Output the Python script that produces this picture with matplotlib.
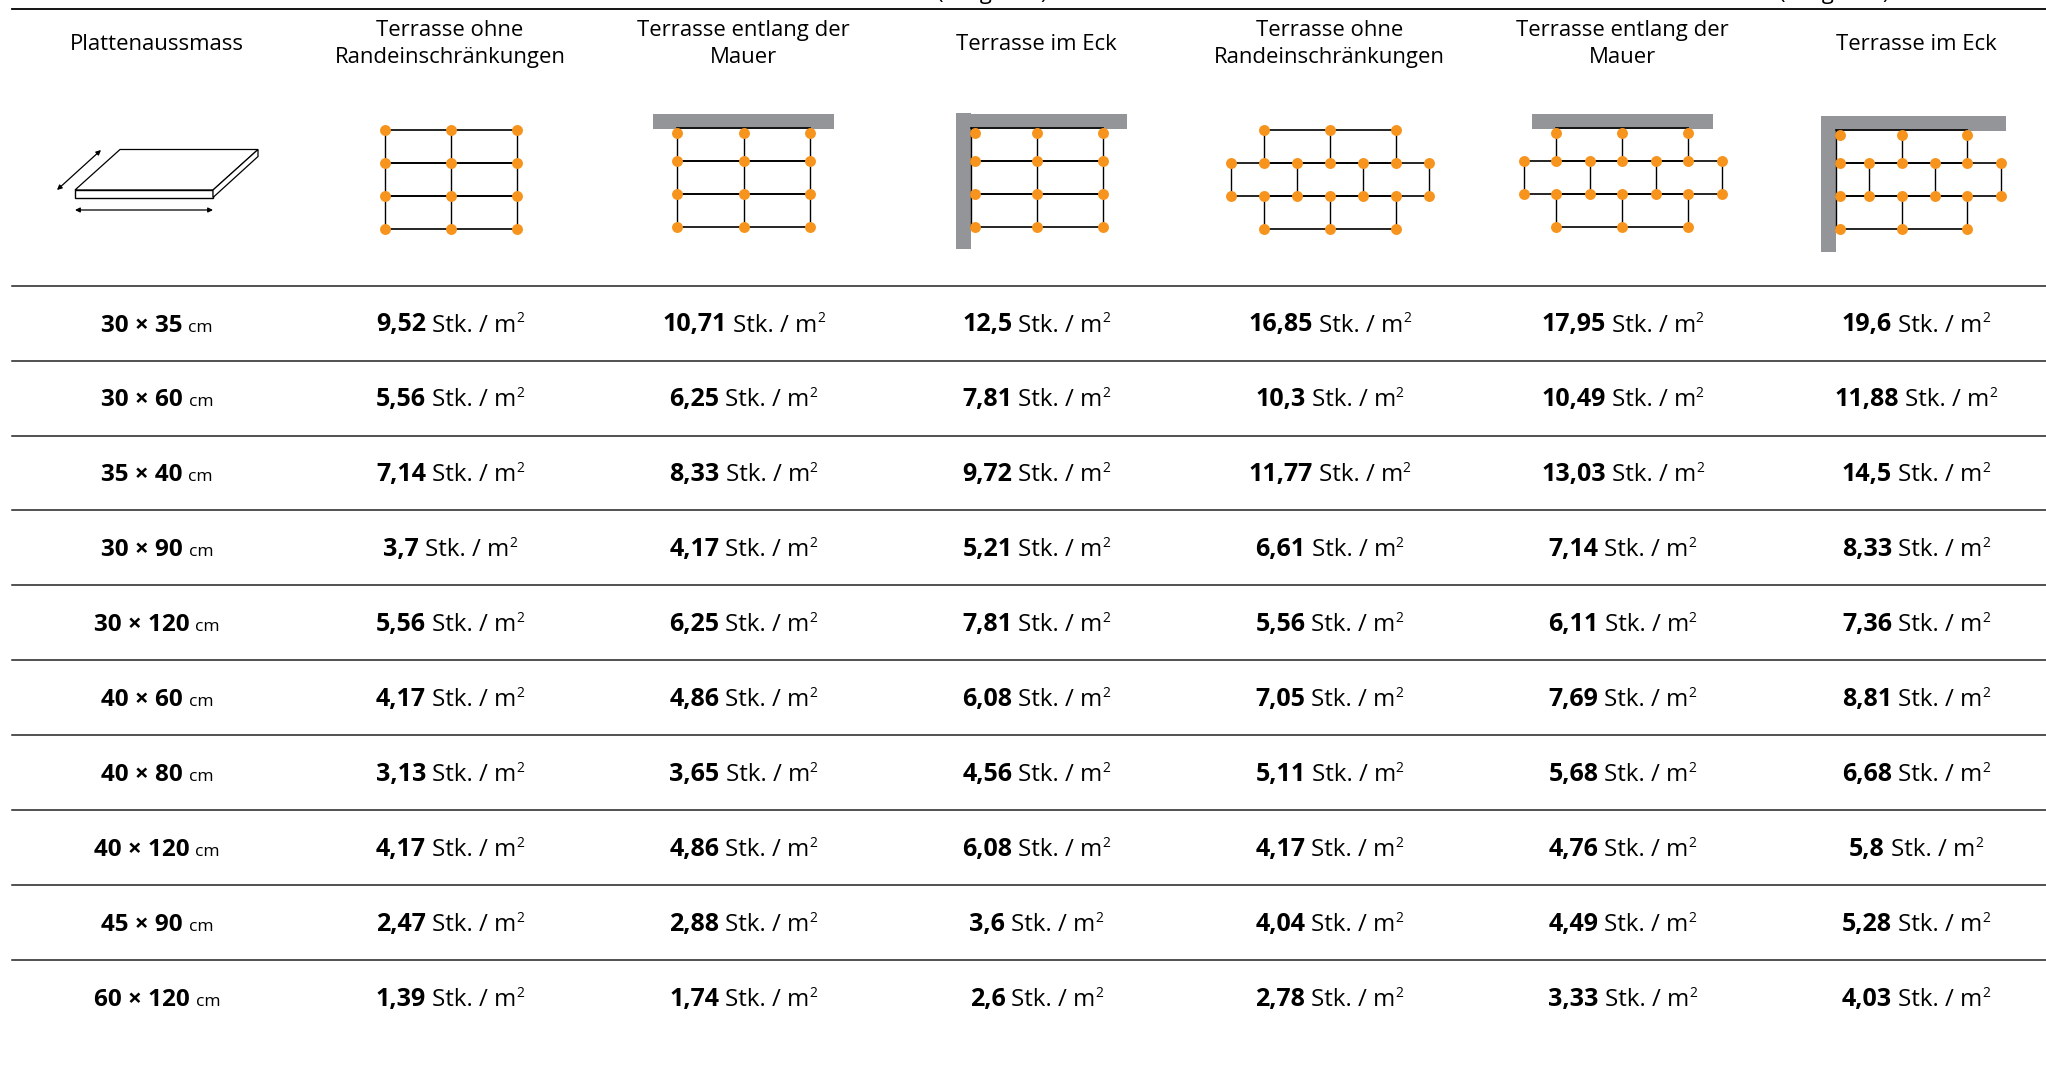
import matplotlib

matplotlib.use("Agg")
import matplotlib.pyplot as plt
from matplotlib.patches import Polygon, Rectangle

# values per column, top to bottom
sizes = ["30 × 35", "30 × 60", "35 × 40", "30 × 90", "30 × 120",
         "40 × 60", "40 × 80", "40 × 120", "45 × 90", "60 × 120"]
free_grid = [9.52, 5.56, 7.14, 3.7, 5.56, 4.17, 3.13, 4.17, 2.47, 1.39]
wall_grid = [10.71, 6.25, 8.33, 4.17, 6.25, 4.86, 3.65, 4.86, 2.88, 1.74]
corner_grid = [12.5, 7.81, 9.72, 5.21, 7.81, 6.08, 4.56, 6.08, 3.6, 2.6]
free_offset = [16.85, 10.3, 11.77, 6.61, 5.56, 7.05, 5.11, 4.17, 4.04, 2.78]
wall_offset = [17.95, 10.49, 13.03, 7.14, 6.11, 7.69, 5.68, 4.76, 4.49, 3.33]
corner_offset = [19.6, 11.88, 14.5, 8.33, 7.36, 8.81, 6.68, 5.8, 5.28, 4.03]
columns = [free_grid, wall_grid, corner_grid, free_offset, wall_offset, corner_offset]

headers = ["Plattenaussmass",
           "Terrasse ohne\nRandeinschränkungen",
           "Terrasse entlang der\nMauer",
           "Terrasse im Eck",
           "Terrasse ohne\nRandeinschränkungen",
           "Terrasse entlang der\nMauer",
           "Terrasse im Eck"]

W, H = 2046, 1091
COL_X = [157, 450, 743.5, 1036.5, 1329.5, 1622.5, 1916]
ORANGE = "#f7941d"
WALL = "#939598"
FS = 15.9
FS_NUM = 18
FS_UNIT = 17.4

plt.rcParams["font.family"] = ["Open Sans", "DejaVu Sans"]

fig = plt.figure(figsize=(W / 100, H / 100), dpi=100)
ax = fig.add_axes([0, 0, 1, 1])
ax.set_xlim(0, W)
ax.set_ylim(H, 0)
ax.axis("off")


def centered_runs(x, y, runs):
    # runs of (text, size, weight, gap before, raise) set side by side, centred on x
    rend = fig.canvas.get_renderer()
    items = []
    total = 0
    for s, size, weight, gap, up in runs:
        t = ax.text(0, y - up, s, fontsize=size, fontweight=weight, ha="left",
                    va="baseline", color="black")
        w = t.get_window_extent(rend).width
        items.append((t, w, gap))
        total += w + gap
    pos = x - total / 2
    for t, w, gap in items:
        pos += gap
        t.set_x(pos)
        pos += w


def brick(ys, rows):
    # rows: list of x lists, one for each course of plates
    for i, xs in enumerate(rows):
        ax.plot([xs[0], xs[-1]], [ys[i], ys[i]], color="black", lw=1.2, zorder=2)
        ax.plot([xs[0], xs[-1]], [ys[i + 1], ys[i + 1]], color="black", lw=1.2, zorder=2)
        for x in xs:
            ax.plot([x, x], [ys[i], ys[i + 1]], color="black", lw=1.0, zorder=2)


def dots(xs, y):
    ax.scatter(xs, [y] * len(xs), s=62, color=ORANGE, linewidths=0, zorder=3)


# rules
line_y = [285.7 + 74.9 * i for i in range(10)]
ax.plot([11.5, W], [9.3, 9.3], color="black", lw=1.3)
for y in line_y:
    ax.plot([11.5, W], [y, y], color="#222222", lw=1.1)

# clipped line of the table above
for x in (992, 1834):
    ax.text(x, -1.5, "(Langseite)", fontsize=FS, ha="center", va="baseline", color="black")

# header
for x, head in zip(COL_X, headers):
    ax.text(x, 44, head, fontsize=FS, ha="center", va="center",
            linespacing=1.33, color="black")

# plate sketch
ax.add_patch(Polygon([(120, 149.5), (258, 149.5), (213, 190), (75, 190)],
                     fc="white", ec="black", lw=0.9))
ax.add_patch(Polygon([(75, 190), (213, 190), (213, 197.5), (75, 197.5)],
                     fc="white", ec="black", lw=1.0))
ax.add_patch(Polygon([(213, 190), (258, 149.5), (258, 156.5), (213, 197.5)],
                     fc="white", ec="black", lw=0.9))
ax.annotate("", xy=(57, 190), xytext=(101, 150),
            arrowprops=dict(arrowstyle="<|-|>", color="black", lw=0.9, mutation_scale=7,
                            shrinkA=0, shrinkB=0))
ax.annotate("", xy=(75, 210), xytext=(213, 210),
            arrowprops=dict(arrowstyle="<|-|>", color="black", lw=0.9, mutation_scale=7,
                            shrinkA=0, shrinkB=0))

# free grid
xs = [384.6, 450.5, 516.6]
ys = [130, 163.3, 196.3, 229.3]
brick(ys, [xs, xs, xs])
for y in ys:
    dots(xs, y)

# grid along the wall
xs = [677, 743.6, 810]
ys = [128, 161, 194, 227]
ax.add_patch(Rectangle((653, 114), 181, 15, fc=WALL, ec="none"))
brick(ys, [xs, xs, xs])
dots(xs, 132.7)
for y in ys[1:]:
    dots(xs, y)

# grid in the corner
xs = [971, 1036.7, 1102.7]
ax.add_patch(Rectangle((956, 114), 171, 15, fc=WALL, ec="none"))
ax.add_patch(Rectangle((956, 113), 15, 136, fc=WALL, ec="none"))
brick(ys, [xs, xs, xs])
dots([975, 1036.7, 1102.7], 132.7)
for y in ys[1:]:
    dots([975, 1036.7, 1102.7], y)

# offset pattern, free
odd = [1263.5, 1329.5, 1395.6]
even = [1230.8, 1296.9, 1362.9, 1429]
ys = [130, 163.3, 196.3, 229.3]
brick(ys, [odd, even, odd])
dots(odd, ys[0])
dots(sorted(odd + even), ys[1])
dots(sorted(odd + even), ys[2])
dots(odd, ys[3])

# offset pattern along the wall
odd = [1556.4, 1622.4, 1688.4]
even = [1523.7, 1589.7, 1655.8, 1721.8]
ys = [128, 161, 194, 227]
ax.add_patch(Rectangle((1531.7, 114), 181.3, 15, fc=WALL, ec="none"))
brick(ys, [odd, even, odd])
dots(odd, 132.7)
dots(sorted(odd + even), ys[1])
dots(sorted(odd + even), ys[2])
dots(odd, ys[3])

# offset pattern in the corner
odd = [1836, 1901.5, 1967]
even = [1836, 1868.6, 1934.6, 2000.7]
ys = [130, 163.3, 196.3, 229.3]
ax.add_patch(Rectangle((1821, 116), 185, 15, fc=WALL, ec="none"))
ax.add_patch(Rectangle((1821, 116), 15, 135.7, fc=WALL, ec="none"))
brick(ys, [odd, even, odd])
dots([1840, 1901.5, 1967], 134.7)
dots([1840, 1868.6, 1901.5, 1934.6, 1967, 2000.7], ys[1])
dots([1840, 1868.6, 1901.5, 1934.6, 1967, 2000.7], ys[2])
dots([1840, 1901.5, 1967], ys[3])

# table body
for i, size in enumerate(sizes):
    y = 331.5 + 74.9 * i
    centered_runs(COL_X[0], y, [(size, 17.5, "bold", 0, 0), ("cm", 12.6, "normal", 6, 0)])
    for x, col in zip(COL_X[1:], columns):
        val = str(col[i]).replace(".", ",")
        centered_runs(x, y, [(val, FS_NUM, "bold", 0, 0),
                             ("Stk. / m", FS_UNIT, "normal", 6, 0),
                             ("2", 10, "normal", 0, 9)])

fig.savefig("out.png", dpi=100)
